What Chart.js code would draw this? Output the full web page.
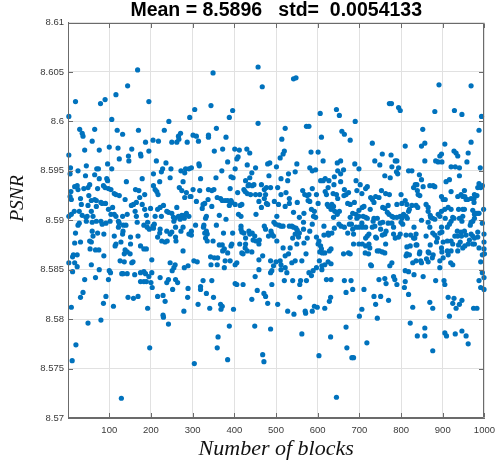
<!DOCTYPE html>
<html><head><meta charset="utf-8">
<script src="https://cdn.jsdelivr.net/npm/chart.js@4"></script>
<style>html,body{margin:0;padding:0;background:#fff;overflow:hidden}</style>
</head><body>
<canvas id="c" width="502" height="461"></canvas>
<script>
const titleText = 'Mean = 8.5896   std=  0.0054133';
const xLabel = 'Number of blocks';
const yLabel = 'PSNR';
const xTickValues = [100,200,300,400,500,600,700,800,900,1000];
const yTickValues = [8.57,8.575,8.58,8.585,8.59,8.595,8.6,8.605,8.61];

const blocksA = [19,3,29,35,37,41,3,7,6,25,
43,8,17,23,25,39,6,9,31,33,
28,16,3,9,35,44,28,25,19,17,
31,14,12,23,3,17,23,12,41,37,
31,9,20,11];
const psnrA = [8.6020,8.6005,8.5992,8.5988,8.5985,8.5971,8.5966,8.5953,8.5947,8.5950,
8.5945,8.5929,8.5934,8.5935,8.5931,8.5932,8.5924,8.5921,8.5922,8.5916,
8.5909,8.5909,8.5904,8.5906,8.5905,8.5903,8.5897,8.5895,8.5887,8.5877,
8.5878,8.5865,8.5863,8.5865,8.5857,8.5857,8.5853,8.5848,8.5840,8.5827,
8.5822,8.5812,8.5774,8.5758];

const blocksB = [144,116,90,79,106,65,119,132,59,100,
121,76,146,147,124,45,70,74,96,106,
65,76,94,96,141,53,49,72,86,90,
98,104,112,116,124,138,51,57,65,69,
80,49,69,83,91,98,108,104,112,116,
132,143,47,61,57,45,59,69,80,83,
92,102,122,124,134,140,122,59,72,87,
112,133,132,61,57,116,114,128,53,54,
67,75,87,138,136,143,126,136,57,76,
67,100,103,130,133,143,98,145,92,86,
110,49,80,129];
const psnrB = [8.6036,8.6027,8.6022,8.6018,8.6002,8.5992,8.5991,8.5987,8.5980,8.5974,
8.5973,8.5971,8.5965,8.5960,8.5962,8.5955,8.5952,8.5952,8.5957,8.5952,
8.5946,8.5942,8.5942,8.5940,8.5939,8.5936,8.5933,8.5932,8.5935,8.5933,
8.5932,8.5931,8.5927,8.5926,8.5925,8.5921,8.5925,8.5920,8.5921,8.5920,
8.5918,8.5915,8.5914,8.5917,8.5917,8.5911,8.5913,8.5906,8.5906,8.5904,
8.5904,8.5906,8.5904,8.5904,8.5909,8.5899,8.5898,8.5899,8.5899,8.5896,
8.5897,8.5899,8.5899,8.5897,8.5895,8.5895,8.5893,8.5889,8.5887,8.5886,
8.5884,8.5889,8.5886,8.5884,8.5878,8.5876,8.5874,8.5878,8.5879,8.5871,
8.5870,8.5870,8.5864,8.5870,8.5866,8.5868,8.5859,8.5858,8.5855,8.5850,
8.5842,8.5849,8.5847,8.5846,8.5846,8.5846,8.5840,8.5822,8.5823,8.5816,
8.5813,8.5796,8.5799,8.5720];

const blocksC = [168,195,243,170,232,205,218,187,154,250,
195,175,176,213,236,228,225,248,246,206,
179,221,206,210,214,217,163,171,173,185,
158,153,165,162,179,185,199,216,222,230,
210,225,238,242,250,165,189,167,192,205,
183,191,196,208,206,254,255,222,221,216,
226,238,246,250,234,239,169,151,175,183,
189,151,150,154,157,202,246,255,251,161,
175,183,187,175,183,189,202,195,200,222,
242,238,252,203,216,229,234,158,169,192,
229,230,242,197];
const psnrC = [8.6052,8.6020,8.6000,8.5991,8.5991,8.5981,8.5980,8.5979,8.5972,8.5979,
8.5970,8.5967,8.5965,8.5960,8.5958,8.5952,8.5949,8.5952,8.5943,8.5947,
8.5942,8.5939,8.5935,8.5931,8.5929,8.5926,8.5931,8.5930,8.5923,8.5926,
8.5916,8.5915,8.5918,8.5909,8.5916,8.5911,8.5912,8.5911,8.5913,8.5915,
8.5904,8.5904,8.5909,8.5908,8.5907,8.5904,8.5905,8.5898,8.5898,8.5894,
8.5895,8.5893,8.5891,8.5896,8.5892,8.5903,8.5899,8.5891,8.5887,8.5883,
8.5879,8.5889,8.5886,8.5888,8.5878,8.5879,8.5884,8.5883,8.5874,8.5871,
8.5871,8.5876,8.5866,8.5857,8.5858,8.5860,8.5857,8.5852,8.5849,8.5845,
8.5847,8.5848,8.5846,8.5838,8.5838,8.5838,8.5847,8.5843,8.5837,8.5842,
8.5840,8.5837,8.5830,8.5832,8.5823,8.5824,8.5818,8.5821,8.5823,8.5811,
8.5804,8.5802,8.5795,8.5771];

const blocksD = [349,344,305,293,357,271,262,267,266,287,
301,309,314,338,338,352,283,291,297,272,
281,315,316,356,319,277,268,274,285,281,
301,296,294,317,338,346,351,337,359,309,
325,329,323,262,346,333,331,291,274,281,
285,280,266,270,258,307,327,326,357,333,
329,335,277,259,272,297,297,291,331,335,
349,259,260,277,352,360,359,343,289,280,
303,311,344,258,259,264,325,319,319,346,
289,333,350,288,279,313,341,361,359,304];
const psnrD = [8.6049,8.6016,8.6012,8.6004,8.5993,8.5988,8.5979,8.5982,8.5985,8.5979,
8.5986,8.5985,8.5980,8.5986,8.5984,8.5970,8.5952,8.5952,8.5953,8.5950,
8.5948,8.5957,8.5955,8.5943,8.5942,8.5939,8.5933,8.5930,8.5928,8.5923,
8.5931,8.5924,8.5924,8.5930,8.5931,8.5930,8.5931,8.5921,8.5923,8.5919,
8.5916,8.5917,8.5912,8.5913,8.5914,8.5904,8.5902,8.5904,8.5905,8.5905,
8.5907,8.5902,8.5904,8.5901,8.5902,8.5895,8.5895,8.5893,8.5895,8.5889,
8.5887,8.5886,8.5893,8.5893,8.5889,8.5889,8.5885,8.5886,8.5882,8.5879,
8.5879,8.5883,8.5879,8.5869,8.5862,8.5862,8.5855,8.5863,8.5854,8.5852,
8.5859,8.5858,8.5855,8.5855,8.5840,8.5837,8.5839,8.5833,8.5830,8.5839,
8.5831,8.5826,8.5822,8.5822,8.5808,8.5815,8.5811,8.5782,8.5771,8.5755];

const blocksE = [457,467,396,388,457,380,372,401,412,409,
406,430,437,384,431,451,442,437,370,402,
392,397,427,435,433,443,447,465,461,390,
423,431,426,439,451,408,367,371,378,384,
392,394,388,402,418,459,465,410,416,414,
364,452,380,416,374,396,416,418,423,435,
437,443,449,445,452,460,459,427,427,394,
392,413,418,421,426,431,371,376,372,364,
384,390,406,402,378,376,442,459,459,468,
402,406,421,450,455,442,398,367,371,368,
388,449,384,468];
const psnrE = [8.6055,8.6035,8.6011,8.6004,8.5998,8.5984,8.5972,8.5972,8.5971,8.5964,
8.5962,8.5972,8.5968,8.5959,8.5956,8.5953,8.5948,8.5943,8.5950,8.5952,
8.5944,8.5943,8.5940,8.5936,8.5935,8.5935,8.5936,8.5936,8.5926,8.5932,
8.5931,8.5927,8.5929,8.5926,8.5926,8.5928,8.5922,8.5920,8.5920,8.5920,
8.5920,8.5918,8.5915,8.5916,8.5916,8.5919,8.5913,8.5906,8.5904,8.5915,
8.5905,8.5906,8.5901,8.5894,8.5887,8.5887,8.5891,8.5888,8.5887,8.5889,
8.5886,8.5887,8.5884,8.5880,8.5879,8.5880,8.5876,8.5882,8.5876,8.5876,
8.5874,8.5876,8.5867,8.5866,8.5872,8.5869,8.5875,8.5871,8.5869,8.5875,
8.5867,8.5859,8.5857,8.5855,8.5859,8.5852,8.5868,8.5860,8.5850,8.5864,
8.5836,8.5835,8.5835,8.5843,8.5829,8.5820,8.5810,8.5815,8.5813,8.5810,
8.5793,8.5793,8.5759,8.5764];

const blocksF = [542,548,522,514,520,517,510,573,501,480,
485,550,546,483,512,530,528,477,487,472,
504,524,512,564,569,575,475,472,532,532,
496,506,522,477,480,551,542,502,556,567,
472,475,495,499,507,512,517,532,538,542,
548,551,556,566,566,488,490,494,482,546,
540,502,554,550,567,575,534,517,522,572,
530,538,546,562,487,500,494,510,512,512,
522,526,487,490,520,540,559,557,573,490,
471,475,480,504,557,528,543,570,571,487,
562,471];
const psnrF = [8.6043,8.6044,8.5993,8.5982,8.5970,8.5967,8.5963,8.5995,8.5954,8.5957,
8.5958,8.5957,8.5949,8.5945,8.5942,8.5947,8.5940,8.5933,8.5933,8.5931,
8.5933,8.5928,8.5926,8.5930,8.5926,8.5925,8.5926,8.5922,8.5922,8.5917,
8.5919,8.5916,8.5914,8.5917,8.5916,8.5918,8.5908,8.5904,8.5903,8.5907,
8.5894,8.5891,8.5898,8.5896,8.5895,8.5894,8.5894,8.5894,8.5894,8.5893,
8.5892,8.5890,8.5887,8.5898,8.5891,8.5889,8.5886,8.5884,8.5884,8.5886,
8.5882,8.5879,8.5883,8.5876,8.5877,8.5882,8.5872,8.5872,8.5864,8.5866,
8.5866,8.5857,8.5859,8.5859,8.5859,8.5858,8.5854,8.5859,8.5855,8.5850,
8.5852,8.5847,8.5847,8.5849,8.5839,8.5839,8.5839,8.5835,8.5839,8.5835,
8.5826,8.5823,8.5816,8.5815,8.5822,8.5808,8.5805,8.5808,8.5806,8.5790,
8.5785,8.5757];

const blocksG = [606,645,652,579,609,658,664,678,584,601,
613,581,587,595,647,655,648,662,607,613,
618,640,655,627,625,639,587,579,597,618,
621,637,645,655,663,668,674,664,577,581,
601,623,626,648,672,678,585,592,634,638,
652,647,632,641,638,678,676,681,590,595,
587,581,664,656,651,615,640,672,597,603,
601,615,625,626,634,607,605,611,609,628,
632,617,662,674,678,604,579,585,589,610,
610,617,625,632,597,621,632,664,680,668,
631,628,592,599,617,587,668,631,670,682,
603,645];
const psnrG = [8.6008,8.6012,8.6006,8.5995,8.5984,8.5990,8.5987,8.5981,8.5969,8.5969,
8.5960,8.5953,8.5950,8.5951,8.5958,8.5960,8.5950,8.5951,8.5940,8.5940,
8.5942,8.5944,8.5947,8.5940,8.5933,8.5936,8.5932,8.5926,8.5926,8.5929,
8.5926,8.5927,8.5926,8.5939,8.5925,8.5926,8.5928,8.5931,8.5920,8.5919,
8.5917,8.5916,8.5914,8.5922,8.5917,8.5916,8.5911,8.5909,8.5916,8.5914,
8.5909,8.5906,8.5911,8.5909,8.5903,8.5903,8.5896,8.5896,8.5904,8.5903,
8.5896,8.5889,8.5893,8.5894,8.5896,8.5894,8.5892,8.5887,8.5883,8.5879,
8.5876,8.5885,8.5887,8.5885,8.5887,8.5874,8.5868,8.5867,8.5871,8.5869,
8.5871,8.5867,8.5866,8.5867,8.5866,8.5859,8.5847,8.5844,8.5849,8.5854,
8.5850,8.5855,8.5858,8.5856,8.5852,8.5840,8.5840,8.5839,8.5839,8.5827,
8.5822,8.5818,8.5813,8.5812,8.5811,8.5808,8.5792,8.5782,8.5771,8.5761,
8.5763,8.5721];

const blocksH = [772,777,690,731,737,755,776,786,749,689,
699,761,774,778,692,694,702,706,715,719,
753,763,772,727,731,739,735,747,756,761,
769,707,711,699,726,688,767,771,778,782,
684,692,699,709,715,719,694,735,743,756,
769,706,699,707,692,715,733,737,731,778,
782,750,751,764,684,686,723,719,715,755,
761,739,741,782,786,699,707,715,723,725,
722,686,743,748,755,761,763,714,727,729,
773,778,747,761,764,782,785,684,711,735,
751,739,770,706,700,743,718,686];
const psnrH = [8.6018,8.6018,8.6000,8.5978,8.5960,8.5967,8.5966,8.5960,8.5956,8.5957,
8.5952,8.5945,8.5943,8.5954,8.5940,8.5930,8.5936,8.5927,8.5932,8.5934,
8.5930,8.5927,8.5926,8.5923,8.5921,8.5924,8.5918,8.5923,8.5913,8.5912,
8.5915,8.5913,8.5914,8.5910,8.5911,8.5918,8.5908,8.5906,8.5904,8.5903,
8.5907,8.5906,8.5904,8.5904,8.5903,8.5902,8.5902,8.5902,8.5902,8.5898,
8.5897,8.5897,8.5893,8.5893,8.5893,8.5893,8.5899,8.5894,8.5893,8.5897,
8.5893,8.5897,8.5891,8.5889,8.5891,8.5886,8.5886,8.5884,8.5882,8.5885,
8.5886,8.5883,8.5882,8.5886,8.5882,8.5876,8.5876,8.5874,8.5876,8.5872,
8.5866,8.5876,8.5869,8.5869,8.5868,8.5867,8.5876,8.5867,8.5855,8.5854,
8.5854,8.5857,8.5840,8.5841,8.5836,8.5843,8.5840,8.5830,8.5830,8.5823,
8.5823,8.5815,8.5819,8.5810,8.5803,8.5801,8.5776,8.5761];

const blocksI = [891,794,798,881,852,810,849,857,790,789,
794,792,857,883,889,893,818,826,844,834,
838,839,830,849,869,877,881,841,845,853,
800,790,802,814,820,818,810,826,836,840,
860,865,865,870,871,876,881,889,893,849,
790,798,802,806,812,815,800,804,831,865,
869,798,794,812,823,830,836,833,860,876,
881,885,887,893,822,814,836,838,820,845,
844,865,870,867,877,875,861,865,847,849,
828,836,814,812,893,893,810,818,831,853,
883,790,810,808,818,869,876,828,822,839,
857,857,876];
const psnrI = [8.6037,8.6014,8.6011,8.6010,8.5992,8.5975,8.5975,8.5978,8.5960,8.5949,
8.5953,8.5947,8.5960,8.5960,8.5959,8.5965,8.5950,8.5950,8.5946,8.5936,
8.5936,8.5930,8.5933,8.5941,8.5935,8.5935,8.5934,8.5926,8.5925,8.5934,
8.5926,8.5916,8.5917,8.5916,8.5911,8.5909,8.5920,8.5915,8.5915,8.5913,
8.5916,8.5913,8.5909,8.5905,8.5903,8.5902,8.5901,8.5906,8.5904,8.5900,
8.5903,8.5904,8.5902,8.5906,8.5904,8.5902,8.5898,8.5896,8.5893,8.5898,
8.5893,8.5886,8.5883,8.5885,8.5885,8.5882,8.5886,8.5882,8.5884,8.5887,
8.5885,8.5878,8.5882,8.5887,8.5874,8.5873,8.5875,8.5875,8.5865,8.5868,
8.5866,8.5868,8.5875,8.5867,8.5865,8.5862,8.5861,8.5858,8.5859,8.5857,
8.5857,8.5859,8.5866,8.5864,8.5859,8.5852,8.5849,8.5848,8.5845,8.5843,
8.5839,8.5835,8.5838,8.5832,8.5825,8.5817,8.5811,8.5812,8.5796,8.5783,
8.5791,8.5783,8.5768];

const blocksJ = [968,928,946,993,987,968,905,927,932,936,
961,897,898,958,940,930,920,990,940,908,
916,987,991,984,995,952,944,976,982,920,
897,901,906,968,975,936,948,953,956,960,
975,905,913,920,938,948,952,972,984,987,
998,897,906,924,927,948,946,940,976,980,
976,972,968,966,920,916,911,995,897,898,
935,936,944,945,952,956,968,972,976,984,
984,929,999,999,964,901,911,920,924,938,
942,948,953,961,972,976,987,897,898,911,
920,936,999,995,1000,991,919,924,913,901,
995,999,987,991,999,905,903,913,927,924,
940,946,932,916,974,982,930,946,905,909,
956,961];
const psnrJ = [8.6036,8.6011,8.6007,8.6005,8.5991,8.5979,8.5977,8.5970,8.5968,8.5965,
8.5968,8.5967,8.5959,8.5959,8.5953,8.5954,8.5954,8.5953,8.5945,8.5939,
8.5941,8.5937,8.5933,8.5933,8.5935,8.5930,8.5926,8.5926,8.5925,8.5929,
8.5924,8.5921,8.5921,8.5922,8.5922,8.5924,8.5924,8.5924,8.5921,8.5921,
8.5918,8.5911,8.5913,8.5911,8.5911,8.5911,8.5911,8.5910,8.5907,8.5907,
8.5911,8.5909,8.5902,8.5903,8.5902,8.5904,8.5899,8.5902,8.5906,8.5907,
8.5902,8.5899,8.5898,8.5895,8.5899,8.5896,8.5893,8.5897,8.5893,8.5888,
8.5889,8.5884,8.5888,8.5884,8.5889,8.5885,8.5886,8.5884,8.5882,8.5888,
8.5883,8.5884,8.5886,8.5878,8.5880,8.5878,8.5879,8.5879,8.5876,8.5875,
8.5878,8.5872,8.5874,8.5876,8.5876,8.5876,8.5872,8.5872,8.5868,8.5869,
8.5869,8.5869,8.5871,8.5865,8.5866,8.5858,8.5857,8.5855,8.5865,8.5862,
8.5847,8.5842,8.5839,8.5832,8.5830,8.5835,8.5839,8.5822,8.5821,8.5816,
8.5815,8.5819,8.5811,8.5803,8.5811,8.5811,8.5785,8.5788,8.5786,8.5783,
8.5783,8.5775];

const blockSets = [blocksA,blocksB,blocksC,blocksD,blocksE,blocksF,blocksG,blocksH,blocksI,blocksJ];
const psnrSets = [psnrA,psnrB,psnrC,psnrD,psnrE,psnrF,psnrG,psnrH,psnrI,psnrJ];
const points = [];
blockSets.forEach((bs, s) => {
  const ps = psnrSets[s];
  const n = Math.min(bs.length, ps.length);
  for (let k = 0; k < n; k++) points.push({x: bs[k], y: ps[k]});
});

const axisColor = '#6b6b6b';
const boxPlugin = {
  id: 'box',
  afterDraw(chart) {
    const {ctx, chartArea: a, scales: {x, y}} = chart;
    ctx.save();
    ctx.strokeStyle = axisColor;
    ctx.lineWidth = 1;
    const L = Math.round(a.left) + 0.5, R = Math.round(a.right) - 0.5;
    const T = Math.round(a.top) + 0.5, B = Math.round(a.bottom) - 0.5;
    ctx.beginPath();
    ctx.rect(L, T, R - L, B - T);
    const tl = 4.5;
    xTickValues.forEach(v => {
      const px = Math.round(x.getPixelForValue(v)) + 0.5;
      ctx.moveTo(px, B); ctx.lineTo(px, B - tl);
      ctx.moveTo(px, T); ctx.lineTo(px, T + tl);
    });
    yTickValues.forEach(v => {
      const py = Math.round(y.getPixelForValue(v)) + 0.5;
      ctx.moveTo(L, py); ctx.lineTo(L + tl, py);
      ctx.moveTo(R, py); ctx.lineTo(R - tl, py);
    });
    ctx.stroke();
    // y-axis label (positioned like the reference: slightly above the axis centre)
    ctx.fillStyle = '#111';
    ctx.font = "italic 19.5px 'Liberation Serif', 'Times New Roman', serif";
    ctx.textAlign = 'center';
    ctx.textBaseline = 'middle';
    ctx.translate(18, y.getPixelForValue(8.5922));
    ctx.rotate(-Math.PI / 2);
    ctx.fillText(yLabel, 0, 0);
    ctx.restore();
  }
};

new Chart(document.getElementById('c'), {
  type: 'scatter',
  data: { datasets: [{
    data: points,
    backgroundColor: '#0072BD',
    borderWidth: 0,
    pointRadius: 2.6,
    pointHoverRadius: 2.6,
    clip: false
  }]},
  options: {
    responsive: false,
    devicePixelRatio: 1,
    animation: false,
    events: [],
    layout: { padding: { left: 0, right: 12, top: 0, bottom: 0 } },
    plugins: {
      legend: { display: false },
      tooltip: { enabled: false },
      title: {
        display: true,
        text: titleText,
        fullSize: false,
        color: '#000',
        font: { family: "'Liberation Sans', Arial, sans-serif", size: 19.5, weight: 'bold', lineHeight: 1 },
        padding: { top: 1, bottom: 2 }
      }
    },
    scales: {
      x: {
        type: 'linear',
        min: 1, max: 1000,
        afterBuildTicks: s => { s.ticks = xTickValues.map(v => ({value: v})); },
        afterFit: s => { s.height = 43; },
        grid: { color: '#e1e1e1', drawTicks: false, lineWidth: 1 },
        border: { color: axisColor, width: 1 },
        ticks: {
          color: '#3a3a3a', padding: 7, maxRotation: 0, autoSkip: false,
          font: { family: "'Liberation Sans', Arial, sans-serif", size: 9.5 },
          callback: v => String(v)
        },
        title: {
          display: true, text: xLabel, color: '#111',
          font: { family: "'Liberation Serif', 'Times New Roman', serif", size: 22, style: 'italic', lineHeight: 1 },
          padding: { top: 0, bottom: 1 }
        }
      },
      y: {
        type: 'linear',
        min: 8.57, max: 8.61,
        afterBuildTicks: s => { s.ticks = yTickValues.map(v => ({value: v})); },
        afterFit: s => { s.width = 68; },
        grid: { color: '#e1e1e1', drawTicks: false, lineWidth: 1 },
        border: { color: axisColor, width: 1 },
        ticks: {
          color: '#3a3a3a', padding: 4, autoSkip: false,
          font: { family: "'Liberation Sans', Arial, sans-serif", size: 9.5 },
          callback: v => String(+Number(v).toFixed(3))
        },
        title: { display: false }
      }
    }
  },
  plugins: [boxPlugin]
});
</script>
</body></html>
